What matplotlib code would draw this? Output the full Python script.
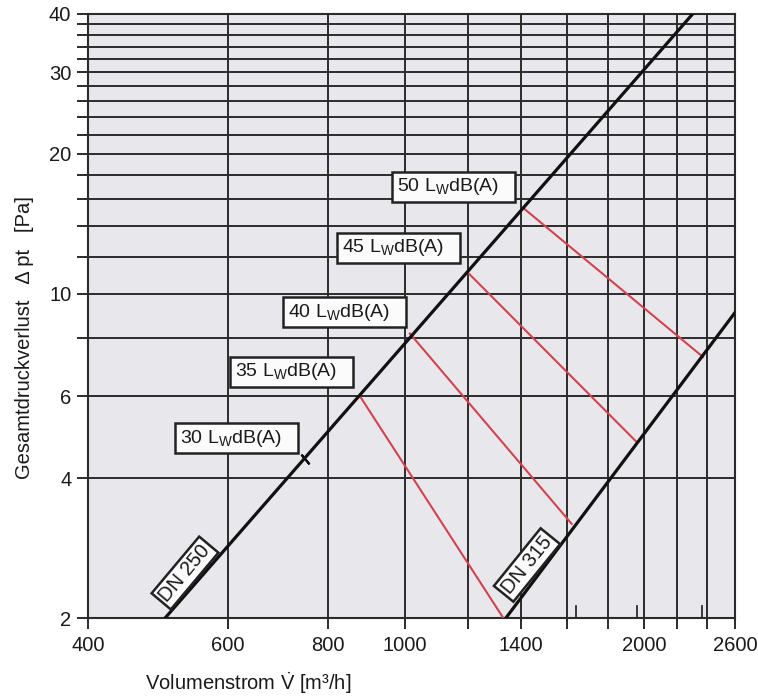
import numpy as np
import matplotlib
matplotlib.use("Agg")
import matplotlib.pyplot as plt
from matplotlib.patches import Rectangle

plt.rcParams['font.family'] = ['Liberation Sans', 'DejaVu Sans']
plt.rcParams['mathtext.fontset'] = 'custom'
plt.rcParams['mathtext.rm'] = 'Liberation Sans'
plt.rcParams['mathtext.it'] = 'Liberation Sans:italic'

# duct characteristics (volume flow m3/h, pressure loss Pa)
dn250_v = [500, 2300]
dn250_dp = [2.0, 40.0]
dn315_v = [1340, 2600]
dn315_dp = [2.0, 9.1]

# sound power lines: start on DN 250, end on DN 315
levels = [35, 40, 45, 50]
red_v0 = [879, 1015, 1200, 1408]
red_dp0 = [6.0, 8.2, 11.1, 15.3]
red_v1 = [1330, 1621, 1958, 2370]
red_dp1 = [2.0, 3.19, 4.78, 7.3]

# 30 dB(A) only marked on DN 250
mark30_v = [749]
mark30_dp = [4.4]

# little marks on the bottom axis
bottom_marks = [1640, 1960, 2360]

grid_x = [400, 600, 800, 1000, 1200, 1400, 1600, 1800, 2000, 2200, 2400, 2600]
xlabels_shown = [400, 600, 800, 1000, 1400, 2000, 2600]
grid_y = [2, 4, 6, 8, 10, 12, 14, 16, 18, 20, 22, 24, 26, 28, 30, 32, 34, 36, 38, 40]
ylabels_shown = [2, 4, 6, 10, 20, 30, 40]

box_levels = [30, 35, 40, 45, 50]
box_left = [0.1345, 0.2195, 0.3014, 0.385, 0.470]     # axes fraction
box_ymid = [0.298, 0.4073, 0.5066, 0.6126, 0.7136]

gc = '#2b2b2b'

fig = plt.figure(figsize=(7.58, 6.99), dpi=100)
ax = fig.add_axes([88/758, 1 - 618/699, 647/758, 604/699])
ax.set_facecolor('#e8e8ec')
ax.set_xscale('log')
ax.set_yscale('log')
ax.set_xlim(400, 2600)
ax.set_ylim(2, 40)

ax.xaxis.set_minor_locator(matplotlib.ticker.NullLocator())
ax.yaxis.set_minor_locator(matplotlib.ticker.NullLocator())
ax.set_xticks(grid_x)
ax.set_xticklabels([str(v) if v in xlabels_shown else '' for v in grid_x])
ax.set_yticks(grid_y)
ax.set_yticklabels([str(v) if v in ylabels_shown else '' for v in grid_y])
ax.tick_params(length=8, width=1.4, color=gc, labelsize=14.5, labelcolor='#1a1a1a')
ax.tick_params(axis='x', pad=5)
ax.tick_params(axis='y', pad=4)
ax.grid(True, color=gc, lw=1.4)
for s in ax.spines.values():
    s.set_color(gc)
    s.set_linewidth(1.5)

for x in bottom_marks:
    ax.axvline(x, ymin=0, ymax=0.02, color=gc, lw=1.3)

# red noise lines
for i in range(len(levels)):
    ax.plot([red_v0[i], red_v1[i]], [red_dp0[i], red_dp1[i]],
            color='#d2424f', lw=1.5, zorder=3)

ax.plot(dn250_v, dn250_dp, color='#111111', lw=2.3, zorder=4)
ax.plot(dn315_v, dn315_dp, color='#111111', lw=2.3, zorder=4)
ax.plot(mark30_v, mark30_dp, marker=(2, 2, 40), ms=9, mew=1.5,
        color='#111111', ls='none', zorder=4)

bw, bh = 123/647, 30/604
for lvl, xl, ym in zip(box_levels, box_left, box_ymid):
    ax.add_patch(Rectangle((xl, ym - bh/2), bw, bh, transform=ax.transAxes,
                           facecolor='#fbfbfb', edgecolor='#222222', lw=1.8, zorder=5))
    ax.text(xl + 5/647, ym, f"{lvl} L$_\\mathrm{{W}}$dB(A)", transform=ax.transAxes,
            ha='left', va='center', fontsize=14, color='#1a1a1a', zorder=6)

ax.text((185-88)/647, (618-573)/604, "DN 250", transform=ax.transAxes, rotation=50,
        ha='center', va='center', fontsize=14.5, color='#1a1a1a', zorder=6,
        bbox=dict(boxstyle='square,pad=0.15', fc='#fbfbfb', ec='#222222', lw=1.8))
ax.text((527-88)/647, (618-565)/604, "DN 315", transform=ax.transAxes, rotation=51,
        ha='center', va='center', fontsize=14.5, color='#1a1a1a', zorder=6,
        bbox=dict(boxstyle='square,pad=0.15', fc='#fbfbfb', ec='#222222', lw=1.8))

fig.text(25/758, 1 - 338/699, "Gesamtdruckverlust   \u0394 pt   [Pa]", rotation=90,
         ha='center', va='center', fontsize=14.5, color='#1a1a1a')
fig.text(248/758, 1 - 683/699, "Volumenstrom $\\dot{\\mathrm{V}}$ [m\u00b3/h]",
         ha='center', va='center', fontsize=14.5, color='#1a1a1a')

fig.savefig("out.png", dpi=100)
